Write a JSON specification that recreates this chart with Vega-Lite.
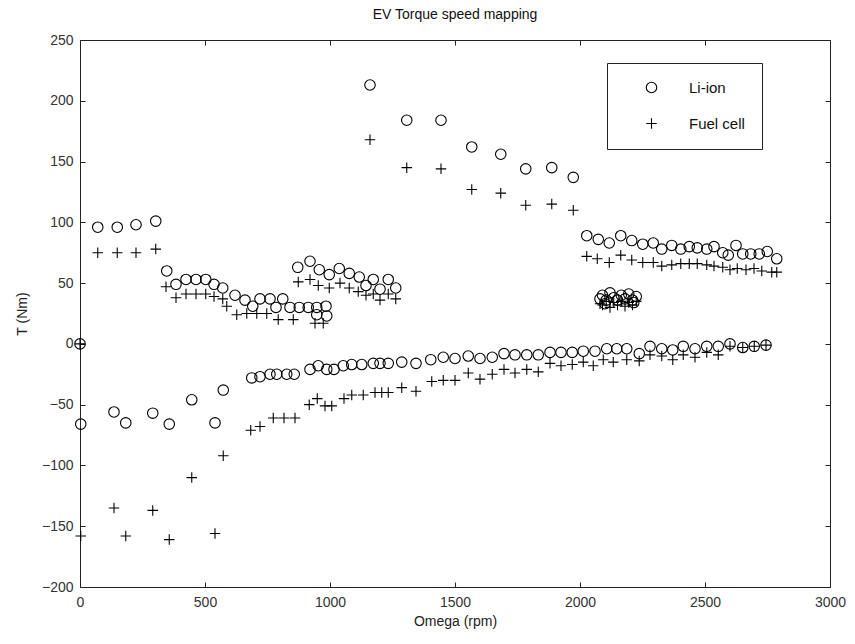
{
  "$schema": "https://vega.github.io/schema/vega-lite/v6.json",
  "width": 750,
  "height": 547,
  "autosize": "none",
  "padding": {"left": 80, "top": 40, "right": 25, "bottom": 57},
  "background": "white",
  "config": {
    "view": {"stroke": null},
    "font": "Liberation Sans",
    "axis": {"grid": false, "domainColor": "#222", "tickColor": "#222", "labelColor": "#333", "titleColor": "#222", "labelFont": "Liberation Sans", "titleFont": "Liberation Sans", "labelFontSize": 14, "titleFontSize": 14, "titleFontWeight": "normal", "labelFlush": false, "labelOverlap": false, "labelBound": false, "format": "d"}
  },
  "title": {"text": "EV Torque speed mapping", "fontSize": 14, "fontWeight": "normal", "font": "Liberation Sans", "color": "#111", "offset": 11, "anchor": "middle"},
  "data": {
    "values": [
      {"w": 0, "t": 0, "s": "Li-ion"}, {"w": 3, "t": -66, "s": "Li-ion"},
      {"w": 71, "t": 96, "s": "Li-ion"}, {"w": 149, "t": 96, "s": "Li-ion"}, {"w": 224, "t": 98, "s": "Li-ion"}, {"w": 303, "t": 101, "s": "Li-ion"},
      {"w": 347, "t": 60, "s": "Li-ion"}, {"w": 384, "t": 49, "s": "Li-ion"}, {"w": 424, "t": 53, "s": "Li-ion"}, {"w": 464, "t": 53, "s": "Li-ion"}, {"w": 503, "t": 53, "s": "Li-ion"}, {"w": 536, "t": 49, "s": "Li-ion"}, {"w": 571, "t": 46, "s": "Li-ion"}, {"w": 620, "t": 40, "s": "Li-ion"}, {"w": 660, "t": 36, "s": "Li-ion"}, {"w": 691, "t": 31, "s": "Li-ion"}, {"w": 720, "t": 37, "s": "Li-ion"}, {"w": 760, "t": 37, "s": "Li-ion"}, {"w": 784, "t": 30, "s": "Li-ion"}, {"w": 811, "t": 37, "s": "Li-ion"}, {"w": 840, "t": 30, "s": "Li-ion"}, {"w": 877, "t": 30, "s": "Li-ion"}, {"w": 913, "t": 30, "s": "Li-ion"}, {"w": 947, "t": 30, "s": "Li-ion"}, {"w": 984, "t": 31, "s": "Li-ion"}, {"w": 947, "t": 24, "s": "Li-ion"}, {"w": 987, "t": 23, "s": "Li-ion"},
      {"w": 871, "t": 63, "s": "Li-ion"}, {"w": 920, "t": 68, "s": "Li-ion"}, {"w": 957, "t": 61, "s": "Li-ion"}, {"w": 997, "t": 57, "s": "Li-ion"}, {"w": 1037, "t": 62, "s": "Li-ion"}, {"w": 1077, "t": 58, "s": "Li-ion"}, {"w": 1117, "t": 55, "s": "Li-ion"}, {"w": 1144, "t": 48, "s": "Li-ion"}, {"w": 1173, "t": 53, "s": "Li-ion"}, {"w": 1200, "t": 45, "s": "Li-ion"}, {"w": 1233, "t": 53, "s": "Li-ion"}, {"w": 1263, "t": 46, "s": "Li-ion"},
      {"w": 1160, "t": 213, "s": "Li-ion"}, {"w": 1307, "t": 184, "s": "Li-ion"}, {"w": 1444, "t": 184, "s": "Li-ion"}, {"w": 1567, "t": 162, "s": "Li-ion"}, {"w": 1683, "t": 156, "s": "Li-ion"}, {"w": 1783, "t": 144, "s": "Li-ion"}, {"w": 1887, "t": 145, "s": "Li-ion"}, {"w": 1973, "t": 137, "s": "Li-ion"},
      {"w": 136, "t": -56, "s": "Li-ion"}, {"w": 183, "t": -65, "s": "Li-ion"}, {"w": 291, "t": -57, "s": "Li-ion"}, {"w": 357, "t": -66, "s": "Li-ion"}, {"w": 447, "t": -46, "s": "Li-ion"}, {"w": 540, "t": -65, "s": "Li-ion"}, {"w": 573, "t": -38, "s": "Li-ion"}, {"w": 687, "t": -28, "s": "Li-ion"}, {"w": 720, "t": -27, "s": "Li-ion"}, {"w": 760, "t": -25, "s": "Li-ion"}, {"w": 787, "t": -25, "s": "Li-ion"}, {"w": 827, "t": -25, "s": "Li-ion"}, {"w": 857, "t": -25, "s": "Li-ion"}, {"w": 920, "t": -21, "s": "Li-ion"}, {"w": 953, "t": -18, "s": "Li-ion"}, {"w": 987, "t": -21, "s": "Li-ion"}, {"w": 1016, "t": -21, "s": "Li-ion"}, {"w": 1053, "t": -18, "s": "Li-ion"}, {"w": 1087, "t": -17, "s": "Li-ion"}, {"w": 1127, "t": -17, "s": "Li-ion"}, {"w": 1173, "t": -16, "s": "Li-ion"}, {"w": 1200, "t": -16, "s": "Li-ion"}, {"w": 1233, "t": -16, "s": "Li-ion"}, {"w": 1287, "t": -15, "s": "Li-ion"}, {"w": 1344, "t": -16, "s": "Li-ion"}, {"w": 1403, "t": -13, "s": "Li-ion"}, {"w": 1453, "t": -11, "s": "Li-ion"}, {"w": 1500, "t": -12, "s": "Li-ion"}, {"w": 1553, "t": -10, "s": "Li-ion"}, {"w": 1600, "t": -12, "s": "Li-ion"}, {"w": 1649, "t": -11, "s": "Li-ion"}, {"w": 1696, "t": -8, "s": "Li-ion"}, {"w": 1740, "t": -9, "s": "Li-ion"}, {"w": 1787, "t": -9, "s": "Li-ion"}, {"w": 1833, "t": -9, "s": "Li-ion"}, {"w": 1880, "t": -7, "s": "Li-ion"}, {"w": 1924, "t": -7, "s": "Li-ion"}, {"w": 1969, "t": -7, "s": "Li-ion"}, {"w": 2013, "t": -6, "s": "Li-ion"}, {"w": 2060, "t": -6, "s": "Li-ion"}, {"w": 2107, "t": -4, "s": "Li-ion"}, {"w": 2147, "t": -4, "s": "Li-ion"}, {"w": 2187, "t": -4, "s": "Li-ion"}, {"w": 2237, "t": -8, "s": "Li-ion"}, {"w": 2280, "t": -2, "s": "Li-ion"}, {"w": 2327, "t": -4, "s": "Li-ion"}, {"w": 2371, "t": -5, "s": "Li-ion"}, {"w": 2413, "t": -2, "s": "Li-ion"}, {"w": 2460, "t": -4, "s": "Li-ion"}, {"w": 2507, "t": -2, "s": "Li-ion"}, {"w": 2553, "t": -2, "s": "Li-ion"}, {"w": 2600, "t": 0, "s": "Li-ion"}, {"w": 2651, "t": -3, "s": "Li-ion"}, {"w": 2697, "t": -2, "s": "Li-ion"}, {"w": 2744, "t": -1, "s": "Li-ion"},
      {"w": 2027, "t": 89, "s": "Li-ion"}, {"w": 2073, "t": 86, "s": "Li-ion"}, {"w": 2117, "t": 83, "s": "Li-ion"}, {"w": 2163, "t": 89, "s": "Li-ion"}, {"w": 2207, "t": 85, "s": "Li-ion"}, {"w": 2251, "t": 82, "s": "Li-ion"}, {"w": 2293, "t": 83, "s": "Li-ion"}, {"w": 2327, "t": 78, "s": "Li-ion"}, {"w": 2367, "t": 81, "s": "Li-ion"}, {"w": 2403, "t": 78, "s": "Li-ion"}, {"w": 2437, "t": 80, "s": "Li-ion"}, {"w": 2469, "t": 79, "s": "Li-ion"}, {"w": 2507, "t": 78, "s": "Li-ion"}, {"w": 2536, "t": 80, "s": "Li-ion"}, {"w": 2571, "t": 75, "s": "Li-ion"}, {"w": 2593, "t": 73, "s": "Li-ion"}, {"w": 2624, "t": 81, "s": "Li-ion"}, {"w": 2651, "t": 74, "s": "Li-ion"}, {"w": 2683, "t": 74, "s": "Li-ion"}, {"w": 2717, "t": 74, "s": "Li-ion"}, {"w": 2749, "t": 76, "s": "Li-ion"}, {"w": 2787, "t": 70, "s": "Li-ion"},
      {"w": 2080, "t": 37, "s": "Li-ion"}, {"w": 2090, "t": 40, "s": "Li-ion"}, {"w": 2100, "t": 33, "s": "Li-ion"}, {"w": 2105, "t": 36, "s": "Li-ion"}, {"w": 2120, "t": 42, "s": "Li-ion"}, {"w": 2135, "t": 38, "s": "Li-ion"}, {"w": 2150, "t": 36, "s": "Li-ion"}, {"w": 2165, "t": 40, "s": "Li-ion"}, {"w": 2180, "t": 37, "s": "Li-ion"}, {"w": 2195, "t": 41, "s": "Li-ion"}, {"w": 2210, "t": 36, "s": "Li-ion"}, {"w": 2215, "t": 34, "s": "Li-ion"}, {"w": 2225, "t": 39, "s": "Li-ion"},
      {"w": 0, "t": 0, "s": "Fuel cell"}, {"w": 3, "t": -158, "s": "Fuel cell"},
      {"w": 71, "t": 75, "s": "Fuel cell"}, {"w": 149, "t": 75, "s": "Fuel cell"}, {"w": 224, "t": 75, "s": "Fuel cell"}, {"w": 303, "t": 78, "s": "Fuel cell"},
      {"w": 344, "t": 47, "s": "Fuel cell"}, {"w": 384, "t": 38, "s": "Fuel cell"}, {"w": 424, "t": 41, "s": "Fuel cell"}, {"w": 464, "t": 41, "s": "Fuel cell"}, {"w": 503, "t": 41, "s": "Fuel cell"}, {"w": 536, "t": 39, "s": "Fuel cell"}, {"w": 571, "t": 37, "s": "Fuel cell"}, {"w": 587, "t": 31, "s": "Fuel cell"}, {"w": 627, "t": 24, "s": "Fuel cell"}, {"w": 667, "t": 25, "s": "Fuel cell"}, {"w": 707, "t": 25, "s": "Fuel cell"}, {"w": 747, "t": 25, "s": "Fuel cell"}, {"w": 793, "t": 20, "s": "Fuel cell"}, {"w": 853, "t": 20, "s": "Fuel cell"}, {"w": 940, "t": 17, "s": "Fuel cell"}, {"w": 973, "t": 17, "s": "Fuel cell"},
      {"w": 873, "t": 51, "s": "Fuel cell"}, {"w": 920, "t": 53, "s": "Fuel cell"}, {"w": 953, "t": 48, "s": "Fuel cell"}, {"w": 997, "t": 46, "s": "Fuel cell"}, {"w": 1040, "t": 50, "s": "Fuel cell"}, {"w": 1077, "t": 46, "s": "Fuel cell"}, {"w": 1113, "t": 43, "s": "Fuel cell"}, {"w": 1144, "t": 40, "s": "Fuel cell"}, {"w": 1173, "t": 41, "s": "Fuel cell"}, {"w": 1200, "t": 36, "s": "Fuel cell"}, {"w": 1233, "t": 41, "s": "Fuel cell"}, {"w": 1263, "t": 37, "s": "Fuel cell"},
      {"w": 1160, "t": 168, "s": "Fuel cell"}, {"w": 1307, "t": 145, "s": "Fuel cell"}, {"w": 1444, "t": 144, "s": "Fuel cell"}, {"w": 1567, "t": 127, "s": "Fuel cell"}, {"w": 1683, "t": 124, "s": "Fuel cell"}, {"w": 1783, "t": 114, "s": "Fuel cell"}, {"w": 1887, "t": 115, "s": "Fuel cell"}, {"w": 1973, "t": 110, "s": "Fuel cell"},
      {"w": 136, "t": -135, "s": "Fuel cell"}, {"w": 183, "t": -158, "s": "Fuel cell"}, {"w": 291, "t": -137, "s": "Fuel cell"}, {"w": 357, "t": -161, "s": "Fuel cell"}, {"w": 447, "t": -110, "s": "Fuel cell"}, {"w": 540, "t": -156, "s": "Fuel cell"}, {"w": 573, "t": -92, "s": "Fuel cell"}, {"w": 683, "t": -71, "s": "Fuel cell"}, {"w": 720, "t": -68, "s": "Fuel cell"}, {"w": 773, "t": -61, "s": "Fuel cell"}, {"w": 816, "t": -61, "s": "Fuel cell"}, {"w": 860, "t": -61, "s": "Fuel cell"}, {"w": 917, "t": -50, "s": "Fuel cell"}, {"w": 949, "t": -45, "s": "Fuel cell"}, {"w": 980, "t": -51, "s": "Fuel cell"}, {"w": 1007, "t": -51, "s": "Fuel cell"}, {"w": 1056, "t": -45, "s": "Fuel cell"}, {"w": 1087, "t": -42, "s": "Fuel cell"}, {"w": 1133, "t": -42, "s": "Fuel cell"}, {"w": 1180, "t": -40, "s": "Fuel cell"}, {"w": 1207, "t": -40, "s": "Fuel cell"}, {"w": 1233, "t": -40, "s": "Fuel cell"}, {"w": 1287, "t": -36, "s": "Fuel cell"}, {"w": 1344, "t": -39, "s": "Fuel cell"}, {"w": 1407, "t": -31, "s": "Fuel cell"}, {"w": 1453, "t": -30, "s": "Fuel cell"}, {"w": 1500, "t": -30, "s": "Fuel cell"}, {"w": 1553, "t": -24, "s": "Fuel cell"}, {"w": 1600, "t": -29, "s": "Fuel cell"}, {"w": 1649, "t": -25, "s": "Fuel cell"}, {"w": 1696, "t": -21, "s": "Fuel cell"}, {"w": 1740, "t": -24, "s": "Fuel cell"}, {"w": 1787, "t": -21, "s": "Fuel cell"}, {"w": 1833, "t": -23, "s": "Fuel cell"}, {"w": 1880, "t": -16, "s": "Fuel cell"}, {"w": 1924, "t": -18, "s": "Fuel cell"}, {"w": 1969, "t": -17, "s": "Fuel cell"}, {"w": 2013, "t": -15, "s": "Fuel cell"}, {"w": 2053, "t": -18, "s": "Fuel cell"}, {"w": 2093, "t": -13, "s": "Fuel cell"}, {"w": 2133, "t": -15, "s": "Fuel cell"}, {"w": 2187, "t": -13, "s": "Fuel cell"}, {"w": 2237, "t": -14, "s": "Fuel cell"}, {"w": 2280, "t": -9, "s": "Fuel cell"}, {"w": 2327, "t": -10, "s": "Fuel cell"}, {"w": 2371, "t": -13, "s": "Fuel cell"}, {"w": 2413, "t": -9, "s": "Fuel cell"}, {"w": 2460, "t": -11, "s": "Fuel cell"}, {"w": 2507, "t": -7, "s": "Fuel cell"}, {"w": 2553, "t": -9, "s": "Fuel cell"}, {"w": 2600, "t": -2, "s": "Fuel cell"}, {"w": 2651, "t": -3, "s": "Fuel cell"}, {"w": 2697, "t": -2, "s": "Fuel cell"}, {"w": 2744, "t": -1, "s": "Fuel cell"},
      {"w": 2027, "t": 72, "s": "Fuel cell"}, {"w": 2069, "t": 70, "s": "Fuel cell"}, {"w": 2117, "t": 67, "s": "Fuel cell"}, {"w": 2163, "t": 73, "s": "Fuel cell"}, {"w": 2207, "t": 69, "s": "Fuel cell"}, {"w": 2251, "t": 67, "s": "Fuel cell"}, {"w": 2293, "t": 67, "s": "Fuel cell"}, {"w": 2327, "t": 64, "s": "Fuel cell"}, {"w": 2367, "t": 65, "s": "Fuel cell"}, {"w": 2403, "t": 66, "s": "Fuel cell"}, {"w": 2437, "t": 66, "s": "Fuel cell"}, {"w": 2469, "t": 66, "s": "Fuel cell"}, {"w": 2507, "t": 65, "s": "Fuel cell"}, {"w": 2536, "t": 64, "s": "Fuel cell"}, {"w": 2571, "t": 63, "s": "Fuel cell"}, {"w": 2600, "t": 61, "s": "Fuel cell"}, {"w": 2629, "t": 62, "s": "Fuel cell"}, {"w": 2664, "t": 61, "s": "Fuel cell"}, {"w": 2696, "t": 62, "s": "Fuel cell"}, {"w": 2727, "t": 60, "s": "Fuel cell"}, {"w": 2767, "t": 59, "s": "Fuel cell"}, {"w": 2787, "t": 59, "s": "Fuel cell"},
      {"w": 2080, "t": 33, "s": "Fuel cell"}, {"w": 2090, "t": 32, "s": "Fuel cell"}, {"w": 2105, "t": 35, "s": "Fuel cell"}, {"w": 2120, "t": 30, "s": "Fuel cell"}, {"w": 2135, "t": 34, "s": "Fuel cell"}, {"w": 2150, "t": 32, "s": "Fuel cell"}, {"w": 2165, "t": 35, "s": "Fuel cell"}, {"w": 2180, "t": 31, "s": "Fuel cell"}, {"w": 2195, "t": 34, "s": "Fuel cell"}, {"w": 2210, "t": 32, "s": "Fuel cell"}, {"w": 2225, "t": 35, "s": "Fuel cell"}
    ]
  },
  "layer": [
    {
      "mark": {"type": "point", "filled": false, "stroke": "black", "strokeWidth": 1.1, "opacity": 1},
      "encoding": {
        "x": {"field": "w", "type": "quantitative", "title": "Omega (rpm)",
          "scale": {"domain": [0, 3000], "nice": false, "zero": false},
          "axis": {"orient": "bottom", "values": [0, 500, 1000, 1500, 2000, 2500, 3000], "tickSize": -5, "labelPadding": 13, "titlePadding": 5}},
        "y": {"field": "t", "type": "quantitative", "title": "T (Nm)",
          "scale": {"domain": [-200, 250], "nice": false, "zero": false},
          "axis": {"orient": "left", "values": [-200, -150, -100, -50, 0, 50, 100, 150, 200, 250], "tickSize": -5, "labelPadding": 12, "titlePadding": 12}},
        "shape": {"field": "s", "type": "nominal", "title": null,
          "scale": {"domain": ["Li-ion", "Fuel cell"], "range": ["circle", "M-1,0H1M0,-1V1"]},
          "legend": {"orient": "none", "legendX": 527, "legendY": 23, "strokeColor": "#222", "fillColor": "white", "padding": 17, "symbolOffset": 20, "rowPadding": 20, "labelFontSize": 15, "labelFont": "Liberation Sans", "labelColor": "#111", "labelOffset": 30, "symbolSize": 110, "symbolStrokeColor": "black", "symbolStrokeWidth": 1.1, "symbolFillColor": "transparent"}},
        "size": {"value": 110}
      }
    },
    {
      "mark": {"type": "point", "opacity": 0},
      "encoding": {
        "x": {"field": "w", "type": "quantitative", "axis": {"orient": "top", "values": [0, 500, 1000, 1500, 2000, 2500, 3000], "labels": false, "title": null, "tickSize": -5}},
        "y": {"field": "t", "type": "quantitative", "axis": {"orient": "right", "values": [-200, -150, -100, -50, 0, 50, 100, 150, 200, 250], "labels": false, "title": null, "tickSize": -5}}
      }
    }
  ],
  "resolve": {"axis": {"x": "independent", "y": "independent"}}
}
